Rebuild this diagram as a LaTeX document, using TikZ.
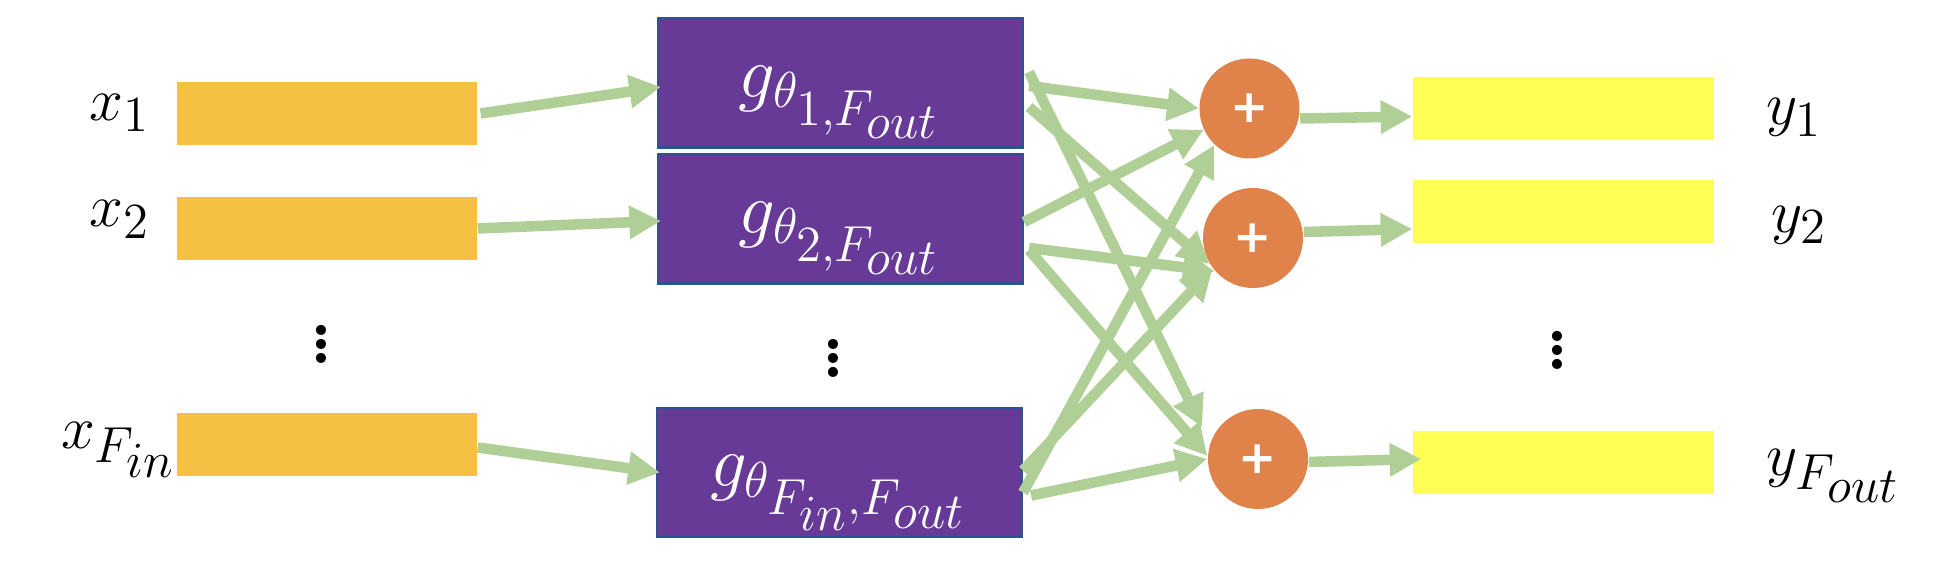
\documentclass[tikz,border=0pt]{standalone}
\usepackage{fontspec}
\newfontfamily\plusfont{DejaVu Sans}
\usetikzlibrary{arrows.meta}
\definecolor{inorange}{HTML}{F6C143}
\definecolor{gpurple}{HTML}{663A96}
\definecolor{gborder}{HTML}{2F528F}
\definecolor{sumorange}{HTML}{E0834A}
\definecolor{outyellow}{HTML}{FFFF55}
\definecolor{wgreen}{HTML}{B0CF96}
\tikzset{
  inbox/.style={fill=inorange, minimum width=3cm, minimum height=0.63cm, inner sep=0},
  gbox/.style={fill=gpurple, draw=gborder, line width=0.6pt, minimum width=3.65cm, minimum height=1.29cm,
    text=white, font=\fontsize{21}{25}\selectfont, text height=14pt, text depth=6pt},
  sumnode/.style={circle, fill=sumorange, minimum size=1cm, inner sep=0, text=white,
    font=\plusfont\bfseries\fontsize{13}{15}\selectfont},
  outbox/.style={fill=outyellow, minimum width=3.01cm, minimum height=0.63cm, inner sep=0},
  vlabel/.style={inner sep=0, font=\fontsize{19}{23}\selectfont},
  dotnode/.style={inner sep=0, font=\bfseries\fontsize{20}{24}\selectfont},
  flow/.style={draw=wgreen, line width=3pt, -{Triangle[length=9pt,width=9pt]}},
}
\begin{document}
\begin{tikzpicture}
\useasboundingbox (0,0) rectangle (19.42,5.78);
% inputs
\node[inbox] (in1) at (3.27,4.645) {};
\node[inbox] (in2) at (3.27,3.495) {};
\node[inbox] (inF) at (3.27,1.335) {};
\node[vlabel] (lx1) at (1.2,4.65) {$x_1$};
\node[vlabel] (lx2) at (1.2,3.585) {$x_2$};
\node[vlabel] (lxF) at (1.19,1.28) {$x_{F_{\scriptstyle in}}$};
\node[dotnode] (dotsx) at (3.21,2.445) {$\vdots$};
% filters
\node[gbox] (g1) at (8.405,4.95) {$g_{\theta_{\scriptstyle 1,F_{\scriptstyle out}}}$};
\node[gbox] (g2) at (8.405,3.59) {$g_{\theta_{\scriptstyle 2,F_{\scriptstyle out}}}$};
\node[gbox] (gF) at (8.395,1.055) {$g_{\theta_{\scriptstyle F_{\scriptstyle in},F_{\scriptstyle out}}}$};
\node[dotnode] (dotsg) at (8.33,2.30) {$\vdots$};
% sums
\node[sumnode] (s1) at (12.495,4.695) {+};
\node[sumnode] (s2) at (12.53,3.40) {+};
\node[sumnode] (s3) at (12.58,1.19) {+};
% outputs
\node[outbox] (o1) at (15.635,4.695) {};
\node[outbox] (o2) at (15.635,3.66) {};
\node[outbox] (oF) at (15.635,1.155) {};
\node[vlabel, anchor=west] (ly1) at (17.66,4.605) {$y_1$};
\node[vlabel, anchor=west] (ly2) at (17.71,3.53) {$y_2$};
\node[vlabel, anchor=west] (lyF) at (17.66,1.02) {$y_{F_{\scriptstyle out}}$};
\node[dotnode] (dotsy) at (15.57,2.38) {$\vdots$};
% arrows in -> g
\draw[flow] ([xshift=0.03cm]in1.east) -- ([xshift=0.04cm,yshift=-0.04cm]g1.west);
\draw[flow] (in2.east) -- ([xshift=0.04cm,yshift=-0.02cm]g2.west);
\draw[flow] ([yshift=-0.03cm]inF.east) -- ([xshift=0.04cm]gF.west);
% arrows g -> sums
\draw[flow] ([xshift=0.05cm,yshift=-0.03cm]g1.east) -- (s1.west);
\draw[flow] ([xshift=0.05cm,yshift=-0.24cm]g1.east) -- (s2.211);
\draw[flow] ([xshift=0.05cm,yshift=0.11cm]g1.east) -- ([xshift=-0.2cm,yshift=-0.04cm]s3.north west);
\draw[flow] ([yshift=-0.03cm]g2.east) -- (s1.205);
\draw[flow] ([xshift=0.05cm,yshift=-0.29cm]g2.east) -- (s2.221);
\draw[flow] ([xshift=0.05cm,yshift=-0.31cm]g2.east) -- ([yshift=0.03cm]s3.west);
\draw[flow] ([yshift=0.02cm]gF.east) -- (s2.217);
\draw[flow] ([yshift=-0.2cm]gF.east) -- (s1.226);
\draw[flow] ([xshift=0.08cm,yshift=-0.23cm]gF.east) -- (s3.west);
% arrows sums -> out
\draw[flow] ([yshift=-0.1cm]s1.east) -- ([yshift=-0.08cm]o1.west);
\draw[flow] ([yshift=0.06cm]s2.east) -- ([yshift=-0.17cm]o2.west);
\draw[flow] ([yshift=-0.03cm]s3.east) -- ([xshift=0.09cm,yshift=0.035cm]oF.west);
\end{tikzpicture}
\end{document}
